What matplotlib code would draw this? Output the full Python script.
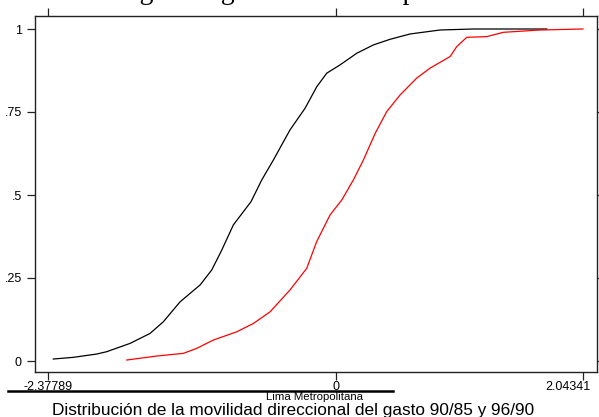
import numpy as np
import matplotlib.pyplot as plt
from matplotlib.lines import Line2D
from matplotlib.transforms import ScaledTranslation

x_9085 = [-2.334, -2.169, -1.975, -1.893, -1.700, -1.535, -1.425, -1.287, -1.121,
          -1.025, -0.942, -0.846, -0.700, -0.612, -0.516, -0.378, -0.254, -0.157,
          -0.074, 0.036, 0.174, 0.311, 0.449, 0.614, 0.862, 1.137, 1.744]
F_9085 = [0.006, 0.011, 0.021, 0.028, 0.053, 0.083, 0.118, 0.178, 0.229,
          0.274, 0.334, 0.410, 0.480, 0.545, 0.605, 0.696, 0.761, 0.826,
          0.867, 0.892, 0.927, 0.952, 0.969, 0.985, 0.997, 1.000, 1.000]

x_9690 = [-1.727, -1.479, -1.260, -1.149, -1.012, -0.818, -0.681, -0.543, -0.378,
          -0.240, -0.157, -0.047, 0.050, 0.145, 0.228, 0.325, 0.421, 0.531,
          0.669, 0.779, 0.945, 1.000, 1.083, 1.248, 1.385, 1.688, 2.04341]
F_9690 = [0.003, 0.015, 0.023, 0.038, 0.063, 0.088, 0.113, 0.148, 0.214,
          0.279, 0.360, 0.440, 0.485, 0.545, 0.605, 0.685, 0.751, 0.801,
          0.852, 0.882, 0.917, 0.947, 0.975, 0.977, 0.990, 0.997, 1.000]

xticks = [-2.37789, 0, 2.04341]
xtick_labels = ['-2.37789', '0', '2.04341']
yticks = [0, 0.25, 0.5, 0.75, 1]
ytick_labels = ['0', '.25', '.5', '.75', '1']

plt.rcParams['font.family'] = 'Liberation Sans'

fig = plt.figure(figsize=(5.99, 4.17), dpi=100)
ax = fig.add_axes([35/599, 1-372/417, 562/599, 356/417])

ax.plot(x_9085, F_9085, color='black', lw=0.9)
ax.plot(x_9690, F_9690, color='red', lw=0.9)

ax.set_xlim(-2.37789 - 13/121, 2.04341 + 14/121)
ax.set_ylim(-11/332, 1 + 13/332)

for s in ax.spines.values():
    s.set_linewidth(1.0)
    s.set_color('#222222')

ax.set_xticks(xticks)
ax.set_xticklabels(xtick_labels)
ax.set_yticks(yticks)
ax.set_yticklabels(ytick_labels)
ax.tick_params(axis='both', direction='out', length=6, width=0.9, colors='#222222',
               labelcolor='black', labelsize=9)
ax.tick_params(axis='x', top=True, pad=0.5)
ax.tick_params(axis='y', right=True, pad=3.5)

# last x label sits a bit left of its tick
lab = ax.get_xticklabels()[-1]
lab.set_transform(lab.get_transform() + ScaledTranslation(-15/100, 0, fig.dpi_scale_trans))

# cropped title at the top (only descenders show)
fig.text(59/599, 1 + 1/417, 'Ranking en el gasto total de la población',
         family='Liberation Serif', fontsize=20, ha='left', va='baseline')

fig.add_artist(Line2D([8/599, 393/599], [1-391/417, 1-391/417], color='black', lw=1.8))
fig.text(315/599, 1-397/417, 'Lima Metropolitana', fontsize=8.2, ha='center', va='center')
fig.text(293/599, 1-410/417, 'Distribución de la movilidad direccional del gasto 90/85 y 96/90',
         fontsize=12.4, ha='center', va='center')

fig.savefig('out.png', dpi=100)
